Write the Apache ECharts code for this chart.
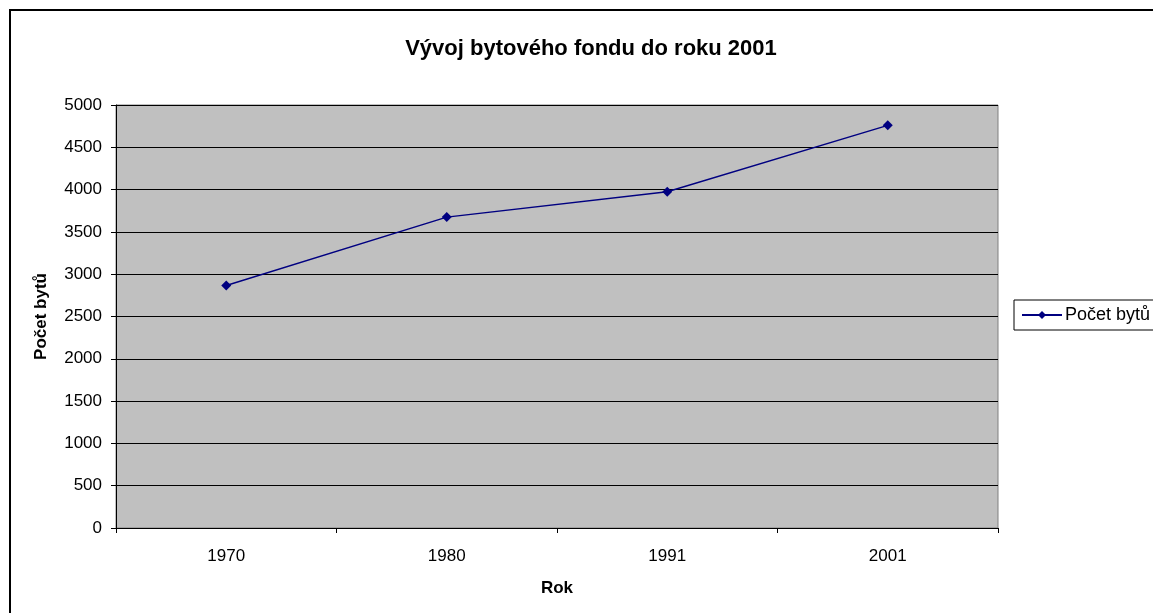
<!DOCTYPE html>
<html>
<head>
<meta charset="utf-8">
<title>Vývoj bytového fondu do roku 2001</title>
<script src="https://cdn.jsdelivr.net/npm/echarts@6/dist/echarts.min.js"></script>
<style>
    html, body { margin: 0; padding: 0; background: #fff; }
    #chart_js { width: 1153px; height: 613px; }
</style>
</head>
<body>
<div id="chart_js"></div>
<script>
// 数据
var years = ['1970', '1980', '1991', '2001'];
var flatCounts = [2866, 3675, 3975, 4760];
var yTicks = [0, 500, 1000, 1500, 2000, 2500, 3000, 3500, 4000, 4500, 5000];

(function(window) {
    'use strict';
    var font = '"Liberation Sans", Arial, sans-serif';
    var chart = echarts.init(document.getElementById('chart_js'));

    var option = {
        backgroundColor: '#fff',
        animation: false,
        // 外框
        graphic: [{
            type: 'rect',
            shape: { x: 10, y: 10, width: 1160, height: 620 },
            style: { fill: 'none', stroke: '#000', lineWidth: 2 },
            silent: true
        }],
        title: {
            text: 'Vývoj bytového fondu do roku 2001',
            left: 586,
            textAlign: 'center',
            top: 33,
            textStyle: { fontFamily: font, fontSize: 22, fontWeight: 'bold', color: '#000' }
        },
        legend: {
            left: 1014,
            top: 300,
            padding: [6, 10, 6, 7],
            itemWidth: 40,
            itemHeight: 10,
            borderColor: '#000',
            borderWidth: 1,
            backgroundColor: '#fff',
            textStyle: { fontFamily: font, fontSize: 18, color: '#000', padding: [0, 0, 0, -2] },
            data: ['Počet bytů']
        },
        grid: {
            left: 116,
            right: 155,
            top: 105,
            bottom: 85,
            show: true,
            backgroundColor: '#c0c0c0',
            borderColor: '#808080',
            borderWidth: 1
        },
        xAxis: {
            type: 'category',
            data: years,
            boundaryGap: true,
            name: 'Rok',
            nameLocation: 'middle',
            nameGap: 52,
            nameTextStyle: { fontFamily: font, fontSize: 17, fontWeight: 'bold', color: '#000' },
            axisLine: { lineStyle: { color: '#000', width: 1 } },
            axisTick: { show: true, length: 5, inside: false, lineStyle: { color: '#000' } },
            axisLabel: { margin: 20, fontFamily: font, fontSize: 17, color: '#000' },
            splitLine: { show: false }
        },
        yAxis: {
            type: 'value',
            min: yTicks[0],
            max: yTicks[yTicks.length - 1],
            interval: yTicks[1] - yTicks[0],
            name: 'Počet bytů',
            nameLocation: 'middle',
            nameGap: 66,
            nameRotate: 90,
            nameTextStyle: { fontFamily: font, fontSize: 17, fontWeight: 'bold', color: '#000' },
            axisLine: { show: true, lineStyle: { color: '#000', width: 1 } },
            axisTick: { show: true, length: 5, lineStyle: { color: '#000' } },
            axisLabel: {
                margin: 14,
                fontFamily: font,
                fontSize: 17,
                color: '#000',
                formatter: function(v) {
                    return String(v);
                }
            },
            splitLine: { show: true, lineStyle: { color: '#000', width: 1 } }
        },
        series: [{
            name: 'Počet bytů',
            type: 'line',
            data: flatCounts,
            symbol: 'diamond',
            symbolSize: 10,
            showAllSymbol: true,
            itemStyle: { color: '#000080' },
            lineStyle: { color: '#000080', width: 1.4 }
        }]
    };

    chart.setOption(option);
})(window);
</script>
</body>
</html>
